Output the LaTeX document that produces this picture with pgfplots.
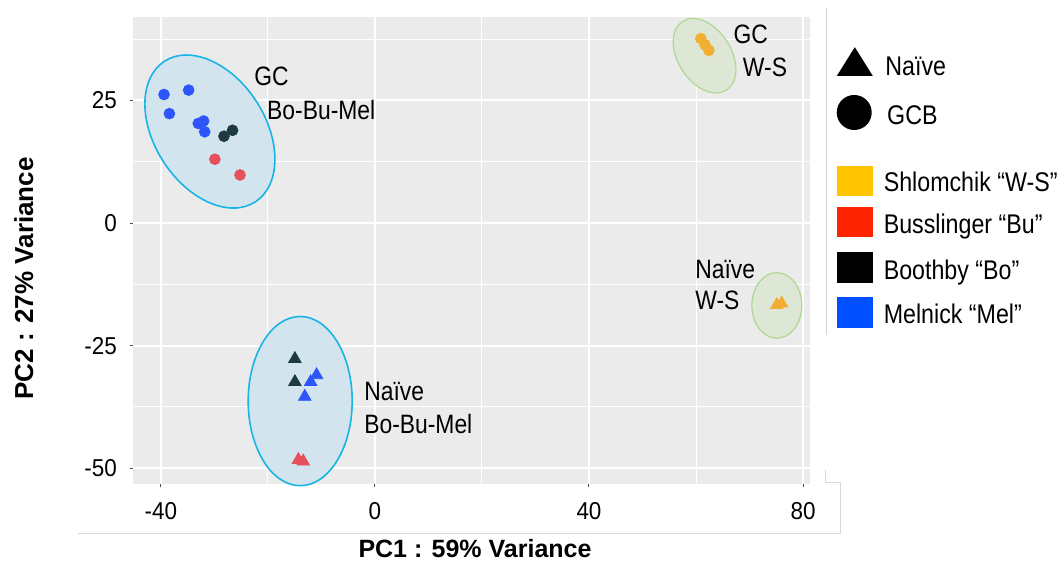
\documentclass[border=0pt]{standalone}
\usepackage{fontspec}
\setmainfont{Liberation Sans}[FakeStretch=0.86]
\newfontfamily\tickfont{Liberation Sans}[FakeStretch=0.92]
\newfontfamily\titlefont{Liberation Sans}
\usepackage{pgfplots}
\pgfplotsset{compat=1.18}
\definecolor{panelgrey}{RGB}{235,235,235}
\definecolor{tickgrey}{RGB}{80,80,80}
\definecolor{ptblue}{RGB}{45,85,250}
\definecolor{ptdark}{RGB}{30,58,64}
\definecolor{ptred}{RGB}{230,80,90}
\definecolor{ptorange}{RGB}{240,175,50}
\definecolor{ellblue}{RGB}{25,180,230}
\definecolor{ellbluefill}{RGB}{210,228,238}
\definecolor{ellgreen}{RGB}{175,215,145}
\definecolor{ellgreenfill}{RGB}{222,230,214}
\definecolor{legyellow}{RGB}{255,196,0}
\definecolor{legred}{RGB}{255,36,0}
\definecolor{legblue}{RGB}{0,80,255}
\definecolor{artline}{RGB}{215,215,215}
\tikzset{
  annot/.style={inner sep=0pt, anchor=base west, font=\fontsize{13.3}{15}\selectfont},
  legtext/.style={inner sep=0pt, anchor=base west, font=\fontsize{13.5}{15}\selectfont},
}
\begin{document}
\begin{tikzpicture}
\useasboundingbox (-66.5pt,-38.5pt) rectangle (462.5pt,242pt);
% faint artefact lines of the composite
\draw[artline, line width=0.5pt] (346.5pt,238pt) -- (346.5pt,74.5pt);
\draw[artline, line width=0.5pt] (-27.5pt,-24.5pt) -- (353.5pt,-24.5pt) -- (353.5pt,0.5pt) -- (346pt,0.5pt) -- (346pt,7pt);
\begin{axis}[
  at={(0pt,0pt)}, anchor=south west,
  width=338.5pt, height=233.5pt, scale only axis,
  xmin=-45.2, xmax=81.3, ymin=-53.2, ymax=42.0,
  xtick={-40,0,40,80}, ytick={-50,-25,0,25},
  minor xtick={-20,20,60}, minor ytick={-37.5,-12.5,12.5,37.5},
  grid=both,
  major grid style={white, line width=1pt},
  minor grid style={white, line width=0.5pt},
  axis background/.style={fill=panelgrey},
  axis line style={draw=none},
  tick align=outside, tick pos=left,
  major tick length=1.7pt, minor tick length=0pt,
  every tick/.style={color=tickgrey, line width=0.5pt},
  /pgf/number format/assume math mode=true,
  xticklabel style={font=\tickfont\fontsize{12.2}{14}\selectfont, inner sep=0pt, anchor=north, yshift=-7.15pt},
  yticklabel style={font=\tickfont\fontsize{12.2}{14}\selectfont, inner sep=0pt, anchor=east, xshift=-6.15pt},
  clip=false,
]
% ellipses
\draw[ellblue, fill=ellbluefill, line width=0.8pt] (axis cs:-30.83,18.65) ellipse [x radius=41.85pt, y radius=27.7pt, rotate=-57.2];
\draw[ellblue, fill=ellbluefill, line width=0.8pt] (axis cs:-13.96,-36.3) ellipse [x radius=26pt, y radius=42.3pt];
\draw[ellgreen, fill=ellgreenfill, line width=0.6pt] (axis cs:61.6,34.1) ellipse [x radius=20.4pt, y radius=13.3pt, rotate=-57.5];
\draw[ellgreen, fill=ellgreenfill, line width=0.6pt] (axis cs:75.1,-16.8) ellipse [x radius=12.5pt, y radius=16.4pt];
% GC (circles)
\addplot[only marks, mark=*, mark size=2.7pt, color=ptblue] coordinates {(-39.4,26.2) (-34.8,27.1) (-38.4,22.3) (-33.0,20.3) (-32.0,20.8) (-31.8,18.6)};
\addplot[only marks, mark=*, mark size=2.7pt, color=ptdark] coordinates {(-28.2,17.7) (-26.6,18.9)};
\addplot[only marks, mark=*, mark size=2.7pt, color=ptred] coordinates {(-29.9,13.0) (-25.2,9.8)};
\addplot[only marks, mark=*, mark size=2.7pt, color=ptorange] coordinates {(60.9,37.6) (61.7,36.3) (62.4,35.2)};
% Naive (triangles)
\addplot[only marks, mark=triangle*, mark size=3.6pt, color=ptdark] coordinates {(-14.95,-27.7) (-14.95,-32.4)};
\addplot[only marks, mark=triangle*, mark size=3.6pt, color=ptblue] coordinates {(-10.9,-31.0) (-12.0,-32.4) (-13.1,-35.4)};
\addplot[only marks, mark=triangle*, mark size=3.6pt, color=ptred] coordinates {(-14.3,-48.3) (-13.4,-48.6)};
\addplot[only marks, mark=triangle*, mark size=3.6pt, color=ptorange] coordinates {(75.1,-16.7) (76.0,-16.4)};
% annotations
\node[annot] at (axis cs:-22.6,28.1) {GC};
\node[annot] at (axis cs:-20.2,21.2) {Bo-Bu-Mel};
\node[annot] at (axis cs:-2.06,-36.2) {Naïve};
\node[annot] at (axis cs:-2.06,-43.0) {Bo-Bu-Mel};
\node[annot] at (axis cs:66.95,36.6) {GC};
\node[annot] at (axis cs:68.7,29.8) {W-S};
\node[annot] at (axis cs:59.8,-11.3) {Naïve};
\node[annot] at (axis cs:59.8,-17.7) {W-S};
\end{axis}
% axis titles
\node[anchor=base, inner sep=0pt, font=\titlefont\bfseries\fontsize{12.5}{14}\selectfont] at (171pt,-36.6pt) {PC1 : 59\% Variance};
\node[anchor=base, rotate=90, inner sep=0pt, font=\titlefont\bfseries\fontsize{13}{14}\selectfont] at (-49.9pt,102.8pt) {PC2 : 27\% Variance};
% legend
\fill[black] (351.9pt,204pt) -- (369.9pt,204pt) -- (360.9pt,218.4pt) -- cycle;
\fill[black] (360.6pt,185.75pt) circle [radius=8.75pt];
\node[legtext] at (376pt,204pt) {Naïve};
\node[legtext] at (376.9pt,179.5pt) {GCB};
\fill[legyellow] (352pt,144pt) rectangle (369.9pt,159pt);
\fill[legred] (352pt,123.4pt) rectangle (369.9pt,138.7pt);
\fill[black] (352pt,100.4pt) rectangle (369.9pt,116.2pt);
\fill[legblue] (352pt,77.9pt) rectangle (369.9pt,93.7pt);
\node[legtext] at (375.2pt,146.2pt) {Shlomchik “W-S”};
\node[legtext] at (375.2pt,125.4pt) {Busslinger “Bu”};
\node[legtext] at (375.2pt,102pt) {Boothby “Bo”};
\node[legtext] at (375.2pt,80.4pt) {Melnick “Mel”};
\end{tikzpicture}
\end{document}
